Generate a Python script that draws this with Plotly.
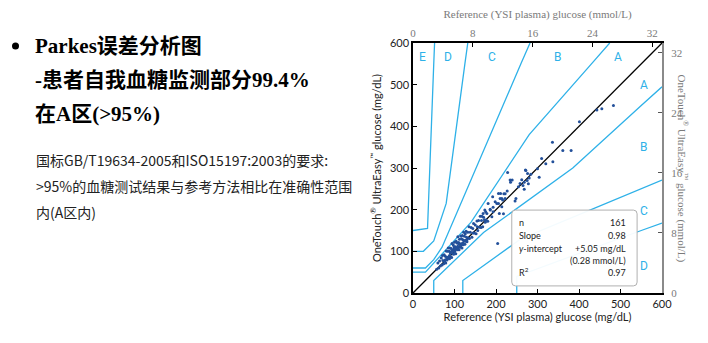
import plotly.graph_objects as go

# ---------------- data ----------------
# Parkes (type 1) consensus error grid boundaries, mg/dL (extended to the 600 edge)
a_upper_x = [0, 30, 140, 280, 430, 474]
a_upper_y = [50, 50, 170, 380, 550, 600]
a_lower_x = [50, 50, 170, 385, 550, 600]
a_lower_y = [0, 30, 145, 300, 450, 495]
b_upper_x = [0, 30, 50, 70, 260, 282]
b_upper_y = [60, 60, 80, 110, 550, 600]
b_lower_x = [120, 120, 260, 550, 600]
b_lower_y = [0, 30, 130, 250, 271]
c_upper_x = [0, 25, 50, 80, 125, 132]
c_upper_y = [100, 100, 125, 215, 550, 600]
c_lower_x = [250, 250, 550, 600]
c_lower_y = [0, 40, 150, 168]
d_upper_x = [0, 35, 50, 52]
d_upper_y = [150, 155, 550, 600]
identity_x = [0, 600]
identity_y = [0, 600]

# measured points (reference mg/dL, meter mg/dL)
ref_mgdl = [57, 60, 62, 64, 66, 68, 70, 71, 72, 74, 75, 76, 78, 79, 80, 81, 82, 83, 84, 85,
            86, 87, 88, 89, 90, 91, 92, 93, 94, 95, 96, 97, 98, 99, 100, 101, 102, 103, 104, 105,
            106, 107, 108, 109, 110, 111, 112, 113, 114, 115, 116, 117, 118, 119, 120, 121, 122, 123, 124, 125,
            126, 127, 128, 129, 130, 132, 134, 135, 136, 138, 140, 142, 144, 145, 146, 148, 150, 152, 154, 155,
            156, 158, 160, 162, 164, 165, 166, 168, 170, 172, 174, 175, 176, 178, 180,
            95, 100, 105, 110, 115, 120, 88, 92, 98, 102, 108, 118, 125, 130, 85, 78,
            483, 455, 443, 401, 336, 361, 381, 310, 320, 337, 300, 304, 271, 284, 228, 258,
            262, 268, 275, 280, 265, 278, 268, 254, 235, 239, 222, 206, 214, 222, 192, 202,
            181, 214, 246, 169, 173, 186, 193, 208, 218, 190, 204,
            272, 276, 234, 227, 211, 219, 210, 216, 248, 198, 206, 186, 193]
meter_mgdl = [57, 72, 60, 77, 65, 84, 67, 90, 78, 70, 92, 76, 88, 72, 101, 85, 79, 100, 83, 108,
              87, 100, 82, 108, 96, 87, 107, 85, 119, 102, 94, 115, 93, 111, 122, 101, 111, 94, 124, 108,
              120, 104, 135, 108, 121, 104, 129, 118, 110, 137, 117, 130, 108, 138, 128, 116, 146, 125, 136, 117,
              142, 124, 148, 134, 123, 146, 132, 159, 131, 146, 157, 134, 155, 144, 167, 144, 163, 142, 173, 159,
              150, 174, 158, 184, 157, 174, 184, 159, 182, 176, 170, 195, 175, 191, 172,
              101, 99, 108, 118, 113, 120, 90, 99, 105, 107, 112, 118, 126, 128, 86, 80,
              450, 442, 439, 411, 362, 342, 342, 323, 310, 315, 298, 278, 295, 285, 289, 263,
              272, 266, 270, 276, 258, 262, 249, 255, 266, 271, 238, 239, 227, 227, 231, 215,
              215, 207, 221, 191, 199, 199, 195, 191, 190, 183, 119,
              294, 287, 271, 245, 239, 238, 227, 223, 227, 219, 215, 201, 206]

x_ticks_mgdl = [0, 100, 200, 300, 400, 500, 600]
y_ticks_mgdl = [0, 100, 200, 300, 400, 500, 600]
mmol_ticks = [0, 8, 16, 24, 32]
mmol_factor = 18.02

zone_labels = ["E", "D", "C", "B", "A", "A", "B", "C", "D"]
zone_label_x = [24, 84, 190, 347, 494, 556, 556, 556, 556]
zone_label_y = [566, 566, 566, 566, 566, 500, 351, 197, 65]

stat_names = ["n", "Slope", "<i>y</i>-intercept", "", "R<sup>2</sup>"]
stat_values = ["161", "0.98", "+5.05 mg/dL", "(0.28 mmol/L)", "0.97"]

# ---------------- styling ----------------
W, H = 708, 343
L, R, T, B = 413, 662, 43, 293
BLUE = "#2eb1e8"
DOT = "#23509a"
GRAY = "#7a7a7a"
SANS = "Lato, Noto Sans, sans-serif"
SERIF = "Liberation Serif, serif"


def pxx(x):
    return (x - L) / (R - L)


def pxy(y):
    return (B - y) / (B - T)


fig = go.Figure()
for xs, ys in [(a_upper_x, a_upper_y), (a_lower_x, a_lower_y), (b_upper_x, b_upper_y),
               (b_lower_x, b_lower_y), (c_upper_x, c_upper_y), (c_lower_x, c_lower_y),
               (d_upper_x, d_upper_y)]:
    fig.add_trace(go.Scatter(x=xs, y=ys, mode="lines", line=dict(color=BLUE, width=1.3),
                             hoverinfo="skip", showlegend=False))

fig.add_trace(go.Scatter(x=identity_x, y=identity_y, mode="lines",
                         line=dict(color="black", width=1.3), showlegend=False))
fig.add_trace(go.Scatter(x=ref_mgdl, y=meter_mgdl, mode="markers",
                         marker=dict(color=DOT, size=3), showlegend=False))
# invisible trace to realise the mmol/L axes
fig.add_trace(go.Scatter(x=[0], y=[0], xaxis="x2", yaxis="y2", mode="markers",
                         marker=dict(opacity=0), showlegend=False, hoverinfo="skip"))

for lab, lx, ly in zip(zone_labels, zone_label_x, zone_label_y):
    fig.add_annotation(x=lx, y=ly, text=lab, showarrow=False,
                       font=dict(family="Roboto", size=12, color=BLUE))

# statistics box (rounded rectangle)
bx0, bx1, by0, by1, rr = 238, 540, 17, 199, 9
path = (f"M {bx0+rr},{by0} L {bx1-rr},{by0} Q {bx1},{by0} {bx1},{by0+rr} "
        f"L {bx1},{by1-rr} Q {bx1},{by1} {bx1-rr},{by1} L {bx0+rr},{by1} "
        f"Q {bx0},{by1} {bx0},{by1-rr} L {bx0},{by0+rr} Q {bx0},{by0} {bx0+rr},{by0} Z")
fig.add_shape(type="path", path=path, xref="x", yref="y", layer="above",
              fillcolor="rgba(255,255,255,0.95)", line=dict(color="#b0b0b0", width=1))
row_y = [170, 139, 108, 77, 50]
for name, val, ry in zip(stat_names, stat_values, row_y):
    if name:
        fig.add_annotation(x=251, y=ry, text=name, showarrow=False, xanchor="left",
                           font=dict(family=SANS, size=9, color="#222"))
    fig.add_annotation(x=519, y=ry, text=val, showarrow=False, xanchor="right",
                       font=dict(family=SANS, size=9, color="#222"))

# right axis title (reads top to bottom)
fig.add_annotation(xref="paper", yref="paper", x=pxx(692), y=pxy(168), text=
                   "OneTouch<sup>®</sup> UltraEasy<sup>™</sup> glucose (mmol/L)",
                   textangle=90, showarrow=False, font=dict(family=SERIF, size=11, color=GRAY))

# left-hand slide text
fig.add_shape(type="circle", xref="paper", yref="paper", x0=pxx(12), x1=pxx(19),
              y0=pxy(49.5), y1=pxy(42.5), fillcolor="black", line=dict(width=0))
title_font = dict(family="Liberation Serif, Noto Sans CJK SC", size=21, color="black")
for txt, ty in [("<b>Parkes误差分析图</b>", 46), ("<b>-患者自我血糖监测部分99.4%</b>", 80),
                ("<b>在A区(>95%)</b>", 114)]:
    fig.add_annotation(xref="paper", yref="paper", x=pxx(33), y=pxy(ty), text=txt,
                       showarrow=False, xanchor="left", yanchor="middle", font=title_font)
body_font = dict(family="Noto Sans CJK SC", size=14, color="#222")
for txt, ty in [("国标GB/T19634-2005和ISO15197:2003的要求:", 160),
                (">95%的血糖测试结果与参考方法相比在准确性范围", 186),
                ("内(A区内)", 212)]:
    fig.add_annotation(xref="paper", yref="paper", x=pxx(34), y=pxy(ty), text=txt,
                       showarrow=False, xanchor="left", yanchor="middle", font=body_font)

axis_common = dict(showgrid=False, zeroline=False, ticks="inside", ticklen=4, showline=True)
fig.update_layout(
    width=W, height=H, plot_bgcolor="white", paper_bgcolor="white",
    margin=dict(l=L, r=W - R, t=T, b=H - B, autoexpand=False),
    showlegend=False,
    xaxis=dict(range=[0, 600], tickvals=x_ticks_mgdl, linecolor="black", linewidth=1.5,
               tickcolor="black", tickfont=dict(family=SANS, size=11, color="#222"),
               title=dict(text="Reference (YSI plasma) glucose (mg/dL)", standoff=4,
                          font=dict(family=SANS, size=11, color="#222")), **axis_common),
    yaxis=dict(range=[0, 600], tickvals=y_ticks_mgdl, linecolor="black", linewidth=1.5,
               tickcolor="black", tickfont=dict(family=SANS, size=11, color="#222"),
               title=dict(text="OneTouch<sup>®</sup> UltraEasy<sup>™</sup> glucose (mg/dL)", standoff=6,
                          font=dict(family=SANS, size=11, color="#222")), **axis_common),
    xaxis2=dict(range=[0, 600 / mmol_factor], tickvals=mmol_ticks, overlaying="x", side="top",
                anchor="y", linecolor="black", linewidth=1.5, tickcolor="black",
                tickfont=dict(family=SERIF, size=11, color=GRAY),
                title=dict(text="Reference (YSI plasma) glucose (mmol/L)", standoff=6,
                           font=dict(family=SERIF, size=11, color=GRAY)), **axis_common),
    yaxis2=dict(range=[0, 600 / mmol_factor], tickvals=mmol_ticks, overlaying="y", side="right",
                anchor="x", linecolor="#8a8a8a", linewidth=2, tickcolor="#555",
                ticklabelstandoff=5,
                tickfont=dict(family=SERIF, size=11, color=GRAY), **axis_common),
)

fig.write_html("out.html")
